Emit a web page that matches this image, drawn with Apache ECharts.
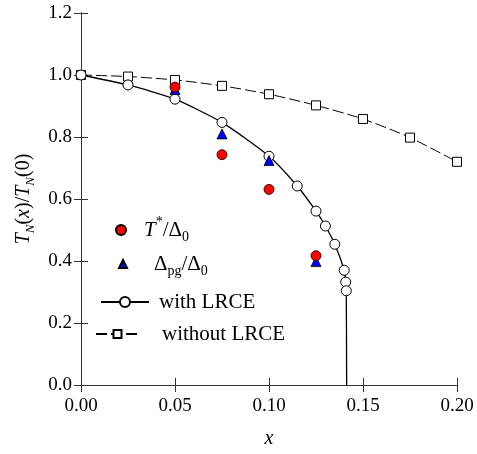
<!DOCTYPE html>
<html>
<head>
<meta charset="utf-8">
<script src="https://cdn.jsdelivr.net/npm/echarts@6/dist/echarts.min.js"></script>
<style>html,body{margin:0;padding:0;background:#fff}#c{width:477px;height:454px}</style>
</head>
<body>
<div id="c"></div>
<script>
// Data
const withX = [0, 0.025, 0.05, 0.075, 0.1, 0.115, 0.125, 0.13, 0.135, 0.14, 0.1408, 0.1411];
const withY = [1.0, 0.968, 0.922, 0.847, 0.738, 0.642, 0.561, 0.513, 0.454, 0.370, 0.332, 0.304];
const withEnd = [0.1413, 0];
const withoutX = [0, 0.025, 0.05, 0.075, 0.1, 0.125, 0.15, 0.175, 0.2];
const withoutY = [1.0, 0.995, 0.984, 0.965, 0.938, 0.902, 0.858, 0.798, 0.720];
const tStarX = [0.05, 0.075, 0.1, 0.125];
const tStarY = [0.961, 0.743, 0.631, 0.417];
const pgX = [0.05, 0.075, 0.1, 0.125];
const pgY = [0.953, 0.810, 0.724, 0.398];
const xTicks = ['0.00', '0.05', '0.10', '0.15', '0.20'];
const yTicks = ['0.0', '0.2', '0.4', '0.6', '0.8', '1.0', '1.2'];

const FONT = 'Liberation Serif';
const zip = (xs, ys) => xs.map((x, i) => [x, ys[i]]);

const withData = zip(withX, withY).map(v => ({value: v}));
withData.push({value: withEnd, symbol: 'none'});

function mkRich(fs, ss, off) {
  return {
    n: {fontFamily: FONT, fontSize: fs, color: '#000', lineHeight: fs + 3},
    i: {fontFamily: FONT, fontSize: fs, fontStyle: 'italic', color: '#000', lineHeight: fs + 3},
    sub: {fontFamily: FONT, fontSize: ss, color: '#000', lineHeight: ss, padding: [off, 0, 0, 0]},
    isub: {fontFamily: FONT, fontSize: ss, fontStyle: 'italic', color: '#000', lineHeight: ss, padding: [off, 0, 0, 0]},
    sup: {fontFamily: FONT, fontSize: ss, color: '#000', lineHeight: ss, padding: [0, 0, off, 0]}
  };
}
const legendRich = mkRich(21, 14, 15);
const nameRich = mkRich(20, 13, 14);

const legendText = {
  'T*/Δ0': '{i|T}{sup|*}{n|/Δ}{sub|0}',
  'Δpg/Δ0': '{n|Δ}{sub|pg}{n|/Δ}{sub|0}',
  'with LRCE': '{n|with LRCE}',
  'without LRCE': '{n|without LRCE}'
};

function mkLegend(name, left, top, w, h, pad) {
  return {
    data: [name],
    left: left,
    top: top,
    padding: 0,
    orient: 'vertical',
    itemWidth: w,
    itemHeight: h,
    selectedMode: false,
    formatter: n => legendText[n],
    textStyle: {fontFamily: FONT, fontSize: 21, color: '#000', rich: legendRich, padding: [0, 0, 0, pad]}
  };
}

const axisCommon = {
  type: 'value',
  axisLine: {show: true, lineStyle: {color: '#333', width: 1}},
  axisTick: {show: true, inside: true, length: 7, lineStyle: {color: '#333'}},
  splitLine: {show: false}
};

const chart = echarts.init(document.getElementById('c'), null, {renderer: 'canvas'});
chart.setOption({
  animation: false,
  backgroundColor: '#fff',
  grid: {left: 81, right: 20, top: 13, bottom: 67},
  legend: [
    mkLegend('T*/Δ0', 115, 215.5, 10, 10, 13),
    mkLegend('Δpg/Δ0', 118, 249.5, 8, 8, 22),
    mkLegend('with LRCE', 100, 291.5, 48, 12.5, 5),
    mkLegend('without LRCE', 95, 323.5, 43, 10, 18)
  ],
  xAxis: [
    Object.assign({}, axisCommon, {
      min: 0, max: 0.2, interval: 0.05, position: 'bottom',
      name: 'x', nameLocation: 'middle', nameGap: 44,
      nameTextStyle: {fontFamily: FONT, fontSize: 20, fontStyle: 'italic', color: '#000'},
      axisLabel: {margin: 12, fontFamily: FONT, fontSize: 19, color: '#000',
        formatter: (v) => xTicks[Math.round(v / 0.05)]}
    }),
    Object.assign({}, axisCommon, {
      min: 0, max: 0.2, interval: 0.05, position: 'top', axisLabel: {show: false}
    })
  ],
  yAxis: [
    Object.assign({}, axisCommon, {
      min: 0, max: 1.2, interval: 0.2, position: 'left',
      name: '{i|T}{isub|N}{n|(}{i|x}{n|)/}{i|T}{isub|N}{n|(0)}',
      nameLocation: 'middle', nameGap: 42, nameRotate: 90,
      nameTextStyle: {fontFamily: FONT, fontSize: 20, color: '#000', rich: nameRich},
      axisLabel: {margin: 9, fontFamily: FONT, fontSize: 19, color: '#000',
        formatter: (v) => yTicks[Math.round(v / 0.2)]}
    }),
    Object.assign({}, axisCommon, {
      min: 0, max: 1.2, interval: 0.2, position: 'right', axisLabel: {show: false}
    })
  ],
  series: [
    {
      name: 'without LRCE', type: 'line', data: zip(withoutX, withoutY),
      smooth: 0.25,
      symbol: 'rect', symbolSize: 9,
      lineStyle: {color: '#000', width: 1, type: [11, 4]},
      itemStyle: {color: '#fff', borderColor: '#000', borderWidth: 1},
      z: 2
    },
    {
      name: 'with LRCE', type: 'line', data: withData,
      smooth: 0.2,
      symbol: 'circle', symbolSize: 10,
      lineStyle: {color: '#000', width: 1.3},
      itemStyle: {color: '#fff', borderColor: '#000', borderWidth: 1},
      z: 3
    },
    {
      name: 'Δpg/Δ0', type: 'scatter', data: zip(pgX, pgY),
      symbol: 'triangle', symbolSize: 10,
      itemStyle: {color: '#0000ff', borderColor: '#000', borderWidth: 0.8, opacity: 1},
      z: 4
    },
    {
      name: 'T*/Δ0', type: 'scatter', data: zip(tStarX, tStarY),
      symbol: 'circle', symbolSize: 10,
      itemStyle: {color: '#ff0000', borderColor: '#000', borderWidth: 0.8, opacity: 1},
      z: 5
    }
  ]
});
</script>
</body>
</html>
